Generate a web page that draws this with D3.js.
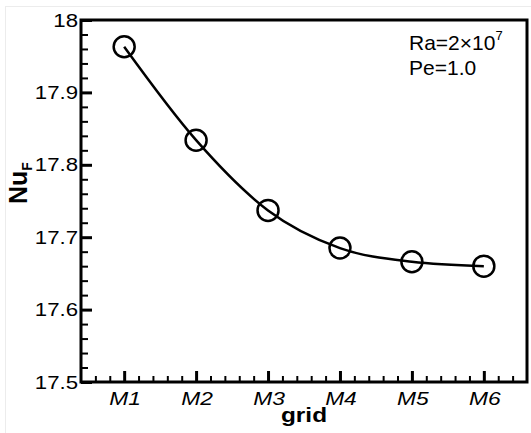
<!DOCTYPE html>
<html lang="en">
<head>
<meta charset="utf-8">
<script src="https://d3js.org/d3.v7.min.js"></script>
<style>
  body { margin: 0; background: #fff; }
  text { font-family: "Liberation Sans", Arial, sans-serif; fill: #000; }
</style>
</head>
<body>
<svg width="531" height="433"></svg>
<script>
// data
var grids = ["M1", "M2", "M3", "M4", "M5", "M6"];
var nuF = [17.963, 17.834, 17.737, 17.685, 17.666, 17.660];
var yTicks = [17.5, 17.6, 17.7, 17.8, 17.9, 18];
var yTickLabels = ["17.5", "17.6", "17.7", "17.8", "17.9", "18"];

var svg = d3.select("svg"),
  margin = {top: 20, right: 4, bottom: 51, left: 81},
  width = +svg.attr("width") - margin.left - margin.right,
  height = +svg.attr("height") - margin.top - margin.bottom;

// faint outer frame
svg.append("rect")
  .attr("x", 5.5).attr("y", 6.5)
  .attr("width", 540).attr("height", 440)
  .attr("fill", "none")
  .attr("stroke", "#ececec");

var g = svg.append("g").attr("transform", "translate(" + margin.left + "," + margin.top + ")");

var x = d3.scaleLinear().domain([0.4, 6.6]).range([0, width]);
var y = d3.scaleLinear().domain([17.5, 18]).range([height, 0]);

var xMinor = d3.range(0.6, 6.5, 0.2).filter(function (d) { return Math.abs(d - Math.round(d)) > 0.01; });
var yMinor = d3.range(17.52, 18, 0.02).filter(function (d) { return Math.abs(d * 10 - Math.round(d * 10)) > 0.01; });

// minor ticks (pointing inward)
g.append("g")
  .attr("transform", "translate(0," + height + ")")
  .call(d3.axisBottom(x).tickValues(xMinor).tickSize(-6).tickFormat(""))
  .call(function (a) { a.select(".domain").remove(); a.selectAll("line").attr("stroke-width", 2); });

g.append("g")
  .call(d3.axisLeft(y).tickValues(yMinor).tickSize(-7).tickFormat(""))
  .call(function (a) { a.select(".domain").remove(); a.selectAll("line").attr("stroke-width", 2); });

// major ticks
g.append("g")
  .attr("transform", "translate(0," + height + ")")
  .call(d3.axisBottom(x).tickValues(d3.range(1, 7)).tickSize(-11).tickFormat(""))
  .call(function (a) { a.select(".domain").remove(); a.selectAll("line").attr("stroke-width", 3); });

g.append("g")
  .call(d3.axisLeft(y).tickValues(yTicks).tickSize(-11).tickFormat(""))
  .call(function (a) { a.select(".domain").remove(); a.selectAll("line").attr("stroke-width", 3); });

// frame
g.append("rect")
  .attr("width", width).attr("height", height)
  .attr("fill", "none")
  .attr("stroke", "#000")
  .attr("stroke-width", 3);

// tick labels, a little wider than the font
g.selectAll(".ylab")
  .data(yTicks)
  .enter().append("text")
  .attr("class", "ylab")
  .attr("text-anchor", "end")
  .attr("font-size", 19)
  .attr("dy", "0.35em")
  .attr("transform", function (d) { return "translate(-3," + y(d) + ") scale(1.17,1)"; })
  .text(function (d, i) { return yTickLabels[i]; });

g.selectAll(".xlab")
  .data(grids)
  .enter().append("text")
  .attr("class", "xlab")
  .attr("text-anchor", "middle")
  .attr("font-size", 19)
  .attr("font-style", "italic")
  .attr("transform", function (d, i) { return "translate(" + (x(i + 1) + 1) + "," + (height + 23) + ") scale(1.2,1)"; })
  .text(function (d) { return d; });

// axis titles
svg.append("text")
  .attr("text-anchor", "middle")
  .attr("font-size", 20)
  .attr("font-weight", "bold")
  .attr("transform", "translate(304,422) scale(1.22,1)")
  .text("grid");

var yt = svg.append("text")
  .attr("text-anchor", "middle")
  .attr("font-size", 25)
  .attr("font-weight", "bold")
  .attr("transform", "translate(27,183) rotate(-90)");
yt.append("tspan").text("Nu");
yt.append("tspan").attr("font-size", 14).attr("dy", 5).text("F");

// curve and symbols
var pts = nuF.map(function (v, i) { return [i + 1, v]; });

g.append("path")
  .datum(pts)
  .attr("fill", "none")
  .attr("stroke", "#000")
  .attr("stroke-width", 2.5)
  .attr("d", d3.line()
    .x(function (d) { return x(d[0]); })
    .y(function (d) { return y(d[1]); })
    .curve(d3.curveMonotoneX));

g.selectAll(".pt")
  .data(pts)
  .enter().append("circle")
  .attr("class", "pt")
  .attr("cx", function (d) { return x(d[0]); })
  .attr("cy", function (d) { return y(d[1]); })
  .attr("r", 10.5)
  .attr("fill", "none")
  .attr("stroke", "#000")
  .attr("stroke-width", 2.5);

// annotation
var ra = svg.append("text").attr("x", 409).attr("y", 50).attr("font-size", 21);
ra.append("tspan").text("Ra=2\u00d710");
ra.append("tspan").attr("font-size", 13).attr("dy", -10).text("7");
svg.append("text").attr("x", 409).attr("y", 75).attr("font-size", 21).text("Pe=1.0");
</script>
</body>
</html>
